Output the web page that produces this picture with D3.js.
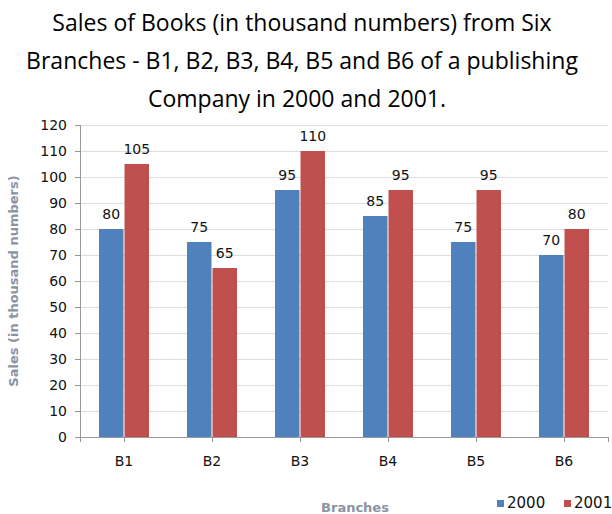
<!DOCTYPE html>
<html lang="en">
<head>
<meta charset="utf-8">
<title>Sales of Books</title>
<style type="text/css">
	body { margin: 0; background-color: white; }
	.title { font-family: "Open Sans", sans-serif; font-size: 23px; fill: #000; }
	.axis path, .axis line { fill: none; stroke: #999; shape-rendering: crispEdges; }
	.axis text { font-family: "DejaVu Sans", Verdana, sans-serif; font-size: 14px; fill: #111; }
	.grid line { stroke: #ddd; shape-rendering: crispEdges; }
	.grid path { display: none; }
	.vlabel { font-family: "DejaVu Sans", Verdana, sans-serif; font-size: 14px; fill: #111; }
	.atitle { font-family: "DejaVu Sans", Verdana, sans-serif; font-size: 13px; font-weight: bold; fill: #8a94a3; }
	.legend text { font-family: "DejaVu Sans", Verdana, sans-serif; font-size: 15px; fill: #111; }
</style>
</head>
<body>
<script src="https://cdnjs.cloudflare.com/ajax/libs/d3/7.8.5/d3.min.js"></script>
<script type="text/javascript">

	var branches = ["B1", "B2", "B3", "B4", "B5", "B6"];
	var years = ["2000", "2001"];
	var sales2000 = [80, 75, 95, 85, 75, 70];
	var sales2001 = [105, 65, 110, 95, 95, 80];
	var yTicks = [0, 10, 20, 30, 40, 50, 60, 70, 80, 90, 100, 110, 120];
	var colors = ["#4f81bd", "#c0504d"];

	var fullwidth = 612, fullheight = 514;
	var margin = { top: 125, right: 4, bottom: 77, left: 80 };
	var width = fullwidth - margin.left - margin.right;
	var height = fullheight - margin.top - margin.bottom;

	var root = d3.select("body").append("svg")
		.attr("width", fullwidth)
		.attr("height", fullheight);

	// title, three lines
	var titleLines = [
		"Sales of Books (in thousand numbers) from Six",
		"Branches - B1, B2, B3, B4, B5 and B6 of a publishing",
		"Company in 2000 and 2001."
	];
	root.selectAll("text.title")
		.data(titleLines)
		.enter().append("text")
		.attr("class", "title")
		.attr("x", function(d, i) { return i == 2 ? 297 : 302; })
		.attr("y", function(d, i) { return 31 + i * 38; })
		.attr("text-anchor", "middle")
		.text(function(d) { return d; });

	var svg = root.append("g")
		.attr("transform", "translate(" + margin.left + "," + margin.top + ")");

	var xScale = d3.scaleBand().domain(branches).range([0, width]);
	var xInner = d3.scaleBand().domain(years).range([xScale.bandwidth() / 2 - 25, xScale.bandwidth() / 2 + 25]).paddingInner(0.04);
	var yScale = d3.scaleLinear().domain([0, 120]).range([height, 0]);

	// gridlines
	svg.append("g")
		.attr("class", "grid")
		.call(d3.axisLeft(yScale).tickValues(yTicks).tickSize(-width).tickFormat(""));

	var data = branches.map(function(b, i) {
		return { branch: b, values: [sales2000[i], sales2001[i]] };
	});

	var groups = svg.selectAll("g.branch")
		.data(data)
		.enter().append("g")
		.attr("class", "branch")
		.attr("transform", function(d) { return "translate(" + xScale(d.branch) + ",0)"; });

	groups.selectAll("rect")
		.data(function(d) { return d.values; })
		.enter().append("rect")
		.attr("x", function(d, i) { return xInner(years[i]); })
		.attr("y", function(d) { return yScale(d); })
		.attr("width", xInner.bandwidth())
		.attr("height", function(d) { return height - yScale(d); })
		.attr("fill", function(d, i) { return colors[i]; });

	groups.selectAll("text")
		.data(function(d) { return d.values; })
		.enter().append("text")
		.attr("class", "vlabel")
		.attr("x", function(d, i) { return xInner(years[i]) + xInner.bandwidth() / 2; })
		.attr("y", function(d) { return yScale(d) - 10; })
		.attr("text-anchor", "middle")
		.text(function(d) { return d; });

	// axes
	svg.append("g")
		.attr("class", "y axis")
		.call(d3.axisLeft(yScale).tickValues(yTicks).tickSize(5).tickPadding(8));

	svg.append("g")
		.attr("class", "x axis")
		.attr("transform", "translate(0," + height + ")")
		.call(d3.axisBottom(xScale).tickSize(5).tickPadding(14));

	// axis titles
	svg.append("text")
		.attr("class", "atitle")
		.attr("transform", "translate(-62," + (height / 2) + ") rotate(-90)")
		.attr("text-anchor", "middle")
		.text("Sales (in thousand numbers)");

	svg.append("text")
		.attr("class", "atitle")
		.attr("x", 275)
		.attr("y", height + 75)
		.attr("text-anchor", "middle")
		.text("Branches");

	// legend
	var legend = root.append("g").attr("class", "legend")
		.selectAll("g")
		.data(years)
		.enter().append("g")
		.attr("transform", function(d, i) { return "translate(" + (497 + i * 67) + ",500)"; });

	legend.append("rect")
		.attr("width", 7).attr("height", 7)
		.attr("fill", function(d, i) { return colors[i]; });

	legend.append("text")
		.attr("x", 10).attr("y", 8)
		.text(function(d) { return d; });

</script>
</body>
</html>
